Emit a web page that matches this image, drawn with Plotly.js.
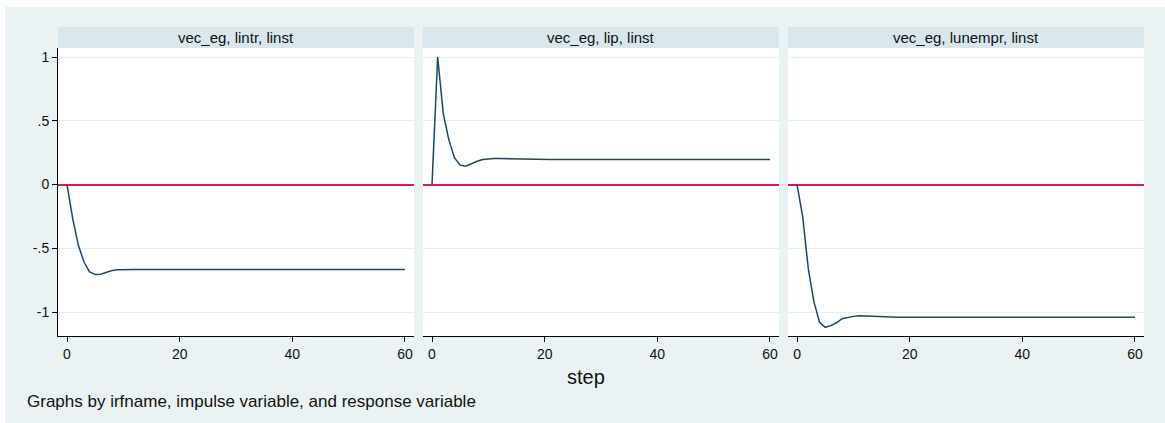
<!DOCTYPE html>
<html>
<head>
<meta charset="utf-8">
<script src="https://cdn.plot.ly/plotly-3.0.1.min.js"></script>
<style>
  html, body { margin: 0; padding: 0; background: #ffffff; }
  #chart { position: absolute; left: 5px; top: 7px; width: 1160px; height: 416px; }
</style>
</head>
<body>
<div id="chart"></div>
<script>
// ---- data ----
const steps = [0,1,2,3,4,5,6,7,8,9,10,11,12,13,14,15,16,17,18,19,20,21,22,23,24,25,26,27,28,29,30,
  31,32,33,34,35,36,37,38,39,40,41,42,43,44,45,46,47,48,49,50,51,52,53,54,55,56,57,58,59,60];

const panelTitles = ["vec_eg, lintr, linst", "vec_eg, lip, linst", "vec_eg, lunempr, linst"];

const irfLintr = [
  0, -0.265, -0.475, -0.606, -0.685, -0.706, -0.703, -0.687, -0.674, -0.668,
  -0.666, -0.666, -0.667, -0.667, -0.667, -0.667, -0.667, -0.667, -0.667, -0.667,
  -0.667, -0.667, -0.667, -0.667, -0.667, -0.667, -0.667, -0.667, -0.667, -0.667,
  -0.667, -0.667, -0.667, -0.667, -0.667, -0.667, -0.667, -0.667, -0.667, -0.667,
  -0.667, -0.667, -0.667, -0.667, -0.667, -0.667, -0.667, -0.667, -0.667, -0.667,
  -0.667, -0.667, -0.667, -0.667, -0.667, -0.667, -0.667, -0.667, -0.667, -0.667,
  -0.667];

const irfLip = [
  0, 1.0, 0.557, 0.348, 0.209, 0.152, 0.144, 0.165, 0.183, 0.196,
  0.201, 0.204, 0.204, 0.203, 0.199, 0.197, 0.196, 0.196, 0.196, 0.196,
  0.196, 0.196, 0.196, 0.196, 0.196, 0.196, 0.196, 0.196, 0.196, 0.196,
  0.196, 0.196, 0.196, 0.196, 0.196, 0.196, 0.196, 0.196, 0.196, 0.196,
  0.196, 0.196, 0.196, 0.196, 0.196, 0.196, 0.196, 0.196, 0.196, 0.196,
  0.196, 0.196, 0.196, 0.196, 0.196, 0.196, 0.196, 0.196, 0.196, 0.196,
  0.196];

const irfLunempr = [
  0, -0.25, -0.66, -0.92, -1.08, -1.12, -1.107, -1.084, -1.052, -1.04,
  -1.034, -1.03, -1.032, -1.035, -1.038, -1.04, -1.04, -1.04, -1.04, -1.04,
  -1.04, -1.04, -1.04, -1.04, -1.04, -1.04, -1.04, -1.04, -1.04, -1.04,
  -1.04, -1.04, -1.04, -1.04, -1.04, -1.04, -1.04, -1.04, -1.04, -1.04,
  -1.04, -1.04, -1.04, -1.04, -1.04, -1.04, -1.04, -1.04, -1.04, -1.04,
  -1.04, -1.04, -1.04, -1.04, -1.04, -1.04, -1.04, -1.04, -1.04, -1.04,
  -1.04];

const xTickVals = [0, 20, 40, 60];
const yTickVals = [-1, -0.5, 0, 0.5, 1];
const yTickText = ["-1", "-.5", "0", ".5", "1"];
const xTitle = "step";
const note = "Graphs by irfname, impulse variable, and response variable";

// ---- styles ----
const FONT = "Liberation Sans, Arial, Helvetica, sans-serif";
const BG = "#eaf2f3";
const STRIP = "#d9e6eb";
const LINE = "#1a476f";
const REF = "#cc1f4e";
const GRID = "#e6eef0";

const series = [irfLintr, irfLip, irfLunempr];
const domains = [[0, 0.3278], [0.3361, 0.6639], [0.6722, 1.0]];
const xr = [-1.6, 61.6];
const yr = [-1.188, 1.071];

const traces = series.map((s, i) => ({
  type: "scatter", mode: "lines",
  x: steps, y: s,
  xaxis: i === 0 ? "x" : "x" + (i + 1),
  yaxis: i === 0 ? "y" : "y" + (i + 1),
  line: { color: LINE, width: 1.5 },
  hoverinfo: "skip", showlegend: false
}));

const layout = {
  width: 1160, height: 416,
  margin: { l: 53, r: 21, t: 41, b: 87 },
  paper_bgcolor: BG, plot_bgcolor: "#ffffff",
  font: { family: FONT, size: 14, color: "#111" },
  showlegend: false,
  shapes: [], annotations: []
};

for (let i = 0; i < 3; i++) {
  const sx = i === 0 ? "" : String(i + 1);
  layout["xaxis" + sx] = {
    domain: domains[i], range: xr, anchor: "y" + sx,
    tickmode: "array", tickvals: xTickVals,
    ticks: "outside", ticklen: 5, tickcolor: "#000", tickwidth: 1,
    showline: true, linecolor: "#000", linewidth: 1,
    showgrid: false, zeroline: false,
    tickfont: { family: FONT, size: 14, color: "#111" }, fixedrange: true
  };
  layout["yaxis" + sx] = {
    domain: [0, 1], range: yr, anchor: "x" + sx,
    tickmode: "array", tickvals: yTickVals, ticktext: yTickText,
    showgrid: true, gridcolor: GRID, gridwidth: 1,
    zeroline: true, zerolinecolor: REF, zerolinewidth: 2,
    showline: i === 0, linecolor: "#000", linewidth: 1,
    ticks: i === 0 ? "outside" : "", ticklen: 5, tickcolor: "#000",
    showticklabels: i === 0,
    tickfont: { family: FONT, size: 14, color: "#111" }, fixedrange: true
  };
  layout.shapes.push({
    type: "rect", xref: "x" + sx + " domain", yref: "paper",
    x0: 0, x1: 1, y0: 1, y1: 1 + 21 / 288,
    fillcolor: STRIP, line: { width: 0 }, layer: "below"
  });
  layout.annotations.push({
    text: panelTitles[i], xref: "x" + sx + " domain", yref: "paper",
    x: 0.5, y: 1 + 10.5 / 288, xanchor: "center", yanchor: "middle",
    showarrow: false, font: { family: FONT, size: 15, color: "#111" }
  });
}

layout.annotations.push({
  text: xTitle, xref: "paper", yref: "paper",
  x: 0.4862, y: -0.1424, xanchor: "center", yanchor: "middle",
  showarrow: false, font: { family: FONT, size: 20, color: "#111" }
});
layout.annotations.push({
  text: note, xref: "paper", yref: "paper",
  x: -0.0304, y: -0.229, xanchor: "left", yanchor: "middle",
  showarrow: false, font: { family: FONT, size: 17, color: "#111" }
});

Plotly.newPlot("chart", traces, layout, { displayModeBar: false, staticPlot: true });
</script>
</body>
</html>
